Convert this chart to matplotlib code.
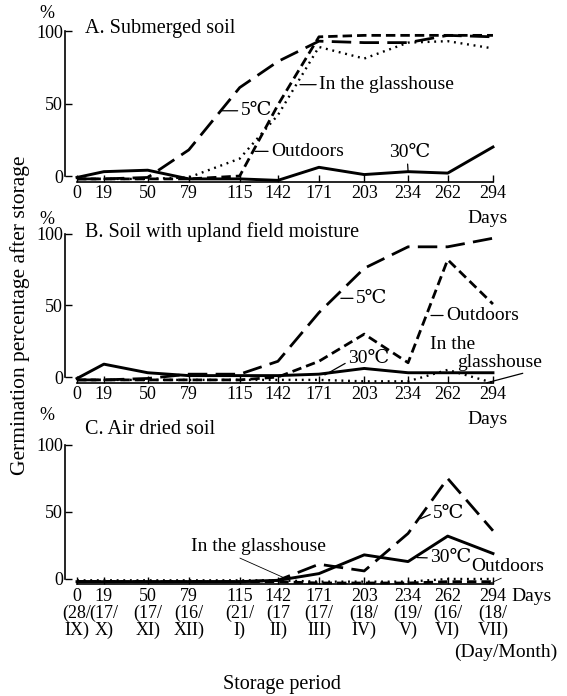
"""Germination percentage of seeds after storage in three soil conditions.

Three stacked panels (A, B, C), four storage treatments each.
"""

import matplotlib
matplotlib.use("Agg")
import matplotlib.pyplot as plt

plt.rcParams["font.family"] = ["Liberation Serif", "DejaVu Serif"]
plt.rcParams["font.size"] = 13

# ------------------------------------------------------------------
# Data
# ------------------------------------------------------------------
days = [0, 19, 50, 79, 115, 142, 171, 203, 234, 262, 294]
day_labels = [str(d) for d in days]
month_labels = ["(28/\nIX)", "(17/\nX)", "(17/\nXI)", "(16/\nXII)", "(21/\nI)",
                "(17\nII)", "(17/\nIII)", "(18/\nIV)", "(19/\nV)", "(16/\nVI)",
                "(18/\nVII)"]

# A. Submerged soil
a_5c = [-2, -2, -1, 18, 61, 79, 93, 92, 92, 97, 96]
a_outdoors = [-2, -2, -2, -2, 0, 49, 96, 97, 97, 97, 97]
a_glass = [-2, -2, -2, -1, 12, 42, 89, 81, 92, 93, 88]
a_30c = [-1, 3, 4, -2, -2, -3, 6, 1, 3, 2, 20]

# B. Soil with upland field moisture
b_5c = [-2, -2, -1, 2, 2, 11, 45, 76, 91, 91, 97]
b_outdoors = [-2, -2, -2, -2, -2, 0, 11, 30, 10, 82, 51]
b_glass = [-2, -2, -2, -2, -2, -2, -2, -3, -3, 5, -4]
b_30c = [-1, 9, 3, 1, 1, 1, 2, 6, 3, 3, 3]

# C. Air dried soil
c_5c = [-2, -2, -2, -2, -2, -1, 11, 6, 34, 75, 36]
c_outdoors = [-2, -2, -2, -2, -2, -2, -3, -3, -3, -2, -2]
c_glass = [-1, -1, -1, -1, -1, -1, -2, -2, -2, 0, 0]
c_30c = [-2, -2, -2, -2, -2, -1, 4, 18, 13, 32, 19]

# ------------------------------------------------------------------
# Plot
# ------------------------------------------------------------------
W, H = 567, 696
fig = plt.figure(figsize=(W / 100, H / 100), dpi=100)

st_5c = dict(color="black", lw=2.0, dashes=(7, 3))
st_out = dict(color="black", lw=2.0, dashes=(3.4, 1.8))
st_glass = dict(color="black", lw=1.7, dashes=(0.8, 2.0))
st_30c = dict(color="black", lw=2.1, ls="-")

boxes = [
    [0.1146, 0.7367, 0.7698, 0.2229],
    [0.1146, 0.4480, 0.7698, 0.2200],
    [0.1146, 0.1585, 0.7698, 0.2060],
]
series = [
    (a_5c, a_outdoors, a_glass, a_30c),
    (b_5c, b_outdoors, b_glass, b_30c),
    (c_5c, c_outdoors, c_glass, c_30c),
]

axes = []
for box, (s5, so, sg, s30) in zip(boxes, series):
    ax = fig.add_axes(box)
    ax.plot(days, s5, **st_5c)
    ax.plot(days, so, **st_out)
    ax.plot(days, sg, **st_glass)
    ax.plot(days, s30, **st_30c)
    ax.set_xlim(-8.5, 300)
    ax.set_ylim(-5, 102)
    for s in ("top", "right"):
        ax.spines[s].set_visible(False)
    ax.spines["left"].set_bounds(0, 100)
    ax.spines["bottom"].set_position(("data", -4))
    ax.spines["bottom"].set_bounds(0, 294)
    ax.spines["left"].set_linewidth(1.2)
    ax.spines["bottom"].set_linewidth(1.2)
    ax.set_yticks([0, 50, 100])
    ax.set_xticks(days)
    ax.tick_params(direction="in", length=5, width=1.0, pad=1.5)
    ax.tick_params(axis="x", pad=2.5)
    axes.append(ax)

axA, axB, axC = axes
axA.set_xticklabels(day_labels)
axB.set_xticklabels(day_labels)
axC.set_xticklabels([f"{d}\n{m}" for d, m in zip(day_labels, month_labels)],
                    linespacing=1.0)

FS = 14
lab = dict(fontsize=FS, va="center", ha="left")
ptr = dict(arrowstyle="-", lw=0.9, color="black", shrinkA=0, shrinkB=0, relpos=(0, 0.5))

# Panel A labels
axA.annotate("5℃", xy=(102.5, 45), xytext=(115.5, 45), arrowprops=ptr, **lab)
axA.annotate("In the glasshouse", xy=(157.6, 63), xytext=(171, 63), arrowprops=ptr, **lab)
axA.annotate("Outdoors", xy=(125.8, 17), xytext=(137, 17), arrowprops=ptr, **lab)
axA.annotate("30℃", xy=(234, 3.5), xytext=(235, 16), fontsize=FS, ha="center", va="center",
             arrowprops=dict(arrowstyle="-", lw=0.9, shrinkA=0, shrinkB=0, relpos=(0.45, 0)))
axA.text(290.4, -29, "Days", ha="center", va="center", fontsize=FS)

# Panel B labels
axB.annotate("5℃", xy=(186.5, 55), xytext=(197, 55), arrowprops=ptr, **lab)
axB.annotate("Outdoors", xy=(250.2, 43), xytext=(260.7, 43), arrowprops=ptr, **lab)
axB.annotate("30℃", xy=(175.2, 1.5), xytext=(191.5, 13), fontsize=FS, ha="left", va="center",
             arrowprops=dict(arrowstyle="-", lw=0.9, shrinkA=0, shrinkB=0, relpos=(0, 0.3)))
axB.text(249.4, 22.4, "In the", **lab)
axB.annotate("glasshouse", xy=(289.7, -4), xytext=(268.5, 10.5), arrowprops=dict(
    arrowstyle="-", lw=0.9, shrinkA=0, shrinkB=0, relpos=(0.9, 0)), **lab)
axB.text(290.4, -30, "Days", ha="center", va="center", fontsize=FS)

# Panel C labels
axC.annotate("5℃", xy=(242.8, 45), xytext=(251.6, 49), arrowprops=ptr, **lab)
axC.annotate("30℃", xy=(240.3, 16), xytext=(249.5, 15.7), arrowprops=ptr, **lab)
axC.annotate("In the glasshouse", xy=(148.2, 0), xytext=(127.9, 24), fontsize=FS,
             ha="center", va="center",
             arrowprops=dict(arrowstyle="-", lw=0.6, shrinkA=0, shrinkB=0, relpos=(0.32, 0)))
axC.annotate("Outdoors", xy=(291.1, -3.7), xytext=(278.4, 9), arrowprops=dict(
    arrowstyle="-", lw=0.6, shrinkA=0, shrinkB=0, relpos=(0.5, 0)), **lab)
axC.text(307, -13, "Days", ha="left", va="center", fontsize=FS)
axC.text(303, -54.5, "(Day/Month)", ha="center", va="center", fontsize=FS)

# Panel titles and % marks (pixel positions)
titles = ["A. Submerged soil", "B. Soil with upland field moisture", "C. Air dried soil"]
title_y = [28, 232, 430]
pct_y = [13, 219, 415]
for t, ty, py in zip(titles, title_y, pct_y):
    fig.text(85 / W, 1 - ty / H, t, ha="left", va="center", fontsize=14.5)
    fig.text(47 / W, 1 - py / H, "%", ha="center", va="center", fontsize=13)

fig.text(20 / W, 1 - 315 / H, "Germination percentage after storage",
         rotation=90, ha="center", va="center", fontsize=15.5)
fig.text(282 / W, 1 - 685 / H, "Storage period", ha="center", va="center", fontsize=14.5)

fig.savefig("out.png", dpi=100)
